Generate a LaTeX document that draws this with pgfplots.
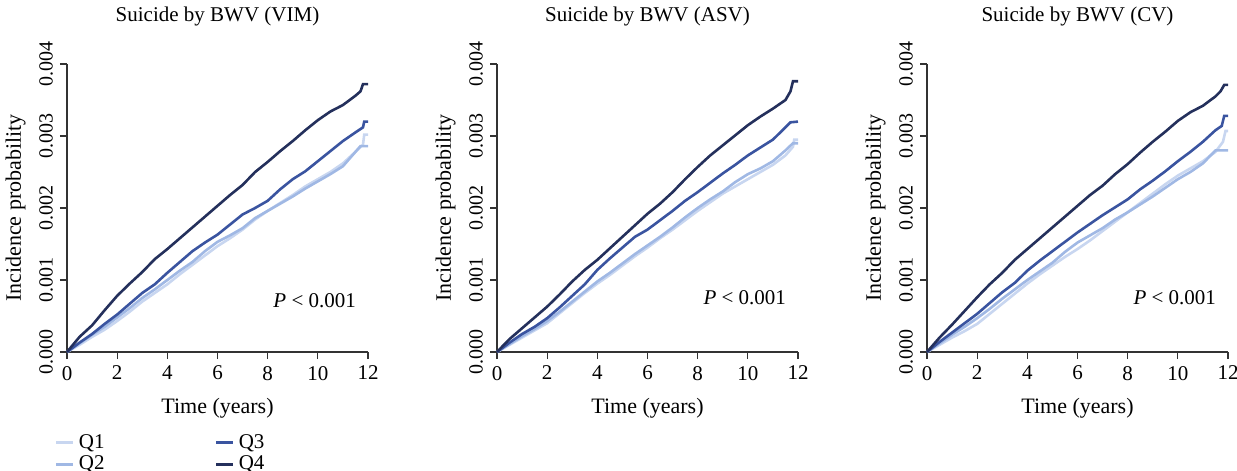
\documentclass[border=0pt]{standalone}
\usepackage{fontspec}
\setmainfont{Liberation Serif}
\usepackage{pgfplots}
\pgfplotsset{compat=1.18}
\definecolor{cqa}{RGB}{200,214,240}
\definecolor{cqb}{RGB}{160,184,228}
\definecolor{cqc}{RGB}{58,84,160}
\definecolor{cqd}{RGB}{36,48,92}
\pgfplotsset{
  panel/.style={
    scale only axis, width=150.5pt, height=144pt,
    xmin=0, xmax=12, ymin=0, ymax=0.004,
    xtick={0,2,4,6,8,10,12},
    ytick={0,0.001,0.002,0.003,0.004},
    axis lines=left,
    axis line style={-, line width=0.6pt, color=black!80},
    tick align=outside,
    tick style={black!80, line width=0.6pt},
    major tick length=3.5pt,
    scaled y ticks=false,
    /pgf/number format/assume math mode=true,
    yticklabel style={/pgf/number format/fixed, /pgf/number format/precision=3,
      /pgf/number format/fixed zerofill, rotate=90, anchor=south, font=\fontsize{10}{12}\selectfont},
    xticklabel style={font=\fontsize{10.5}{12}\selectfont},
    title style={at={(0.5,1)}, anchor=base, yshift=15.5pt, font=\fontsize{10.5}{12}\selectfont},
    every axis x label/.style={at={(axis description cs:0.5,0)}, anchor=base, yshift=-30.5pt, font=\fontsize{11}{12}\selectfont},
    ylabel style={font=\fontsize{11}{12}\selectfont},
    xlabel={Time (years)},
    ylabel={Incidence probability},
    clip=false,
  },
  q1/.style={color=cqa, line width=1.3pt},
  q2/.style={color=cqb, line width=1.3pt},
  q3/.style={color=cqc, line width=1.3pt},
  q4/.style={color=cqd, line width=1.3pt},
}
\begin{document}
\begin{tikzpicture}
\path[use as bounding box] (-33.5pt,-59.5pt) rectangle (585pt,176pt);
% ---------------- VIM
\begin{axis}[panel, at={(0pt,0pt)}, anchor=south west,
  title={Suicide by BWV (VIM)},
  legend style={draw=none, fill=none, at={(axis description cs:-0.062,-0.256)}, anchor=north west,
    font=\fontsize{10.5}{10.5}\selectfont, row sep=-1.5pt,
    /tikz/column 2/.style={column sep=53pt}},
  legend cell align=left, legend columns=2, transpose legend,
  legend image code/.code={\draw[#1, line width=1.6pt] (0pt,0pt) -- (8.5pt,0pt);},
]
\addplot[q1] coordinates {(0,0) (0.5,0.0001) (1,0.00021) (1.5,0.00031) (2,0.00043) (2.5,0.00056) (3,0.0007) (3.5,0.00082) (4,0.00094) (4.5,0.00108) (5,0.00121) (5.5,0.00134) (6,0.00147) (6.5,0.00158) (7,0.0017) (7.5,0.00184) (8,0.00196) (8.5,0.00207) (9,0.00218) (9.5,0.0023) (10,0.0024) (10.5,0.0025) (11,0.00262) (11.5,0.00278) (11.8,0.00288) (11.85,0.00302) (12,0.00302)};
\addplot[q2] coordinates {(0,0) (0.5,0.00012) (1,0.00024) (1.5,0.00035) (2,0.00048) (2.5,0.00061) (3,0.00075) (3.5,0.00087) (4,0.001) (4.5,0.00113) (5,0.00125) (5.5,0.0014) (6,0.00153) (6.5,0.00162) (7,0.00172) (7.5,0.00186) (8,0.00196) (8.5,0.00206) (9,0.00216) (9.5,0.00227) (10,0.00237) (10.5,0.00247) (11,0.00258) (11.5,0.00278) (11.7,0.00286) (12,0.00286)};
\addplot[q3] coordinates {(0,0) (0.5,0.00013) (1,0.00025) (1.5,0.00039) (2,0.00052) (2.5,0.00067) (3,0.00082) (3.5,0.00094) (4,0.0011) (4.5,0.00125) (5,0.0014) (5.5,0.00152) (6,0.00163) (6.5,0.00177) (7,0.00191) (7.5,0.002) (8,0.0021) (8.5,0.00226) (9,0.0024) (9.5,0.00251) (10,0.00265) (10.5,0.00279) (11,0.00293) (11.5,0.00305) (11.8,0.00312) (11.85,0.0032) (12,0.0032)};
\addplot[q4] coordinates {(0,0) (0.5,0.00021) (1,0.00037) (1.5,0.00058) (2,0.00078) (2.5,0.00095) (3,0.00111) (3.5,0.00129) (4,0.00143) (4.5,0.00158) (5,0.00173) (5.5,0.00188) (6,0.00203) (6.5,0.00218) (7,0.00232) (7.5,0.0025) (8,0.00264) (8.5,0.00279) (9,0.00293) (9.5,0.00308) (10,0.00322) (10.5,0.00334) (11,0.00343) (11.5,0.00356) (11.7,0.00362) (11.8,0.00372) (12,0.00372)};
\legend{Q1,Q2,Q3,Q4}
\node[anchor=base east, font=\fontsize{10.5}{12}\selectfont] at (axis cs:11.8,0.00062) {\textit{P} < 0.001};
\end{axis}
% ---------------- ASV
\begin{axis}[panel, at={(215pt,0pt)}, anchor=south west,
  title={Suicide by BWV (ASV)}]
\addplot[q1] coordinates {(0,0) (0.5,0.0001) (1,0.0002) (1.5,0.0003) (2,0.0004) (2.5,0.00054) (3,0.00068) (3.5,0.00082) (4,0.00095) (4.5,0.00107) (5,0.0012) (5.5,0.00133) (6,0.00145) (6.5,0.00158) (7,0.0017) (7.5,0.00183) (8,0.00196) (8.5,0.00208) (9,0.0022) (9.5,0.0023) (10,0.0024) (10.5,0.0025) (11,0.0026) (11.5,0.00273) (11.8,0.00285) (11.85,0.00295) (12,0.00295)};
\addplot[q2] coordinates {(0,0) (0.5,0.00011) (1,0.00022) (1.5,0.00032) (2,0.00043) (2.5,0.00056) (3,0.0007) (3.5,0.00084) (4,0.00098) (4.5,0.0011) (5,0.00123) (5.5,0.00136) (6,0.00148) (6.5,0.0016) (7,0.00173) (7.5,0.00187) (8,0.002) (8.5,0.00212) (9,0.00223) (9.5,0.00236) (10,0.00247) (10.5,0.00255) (11,0.00265) (11.5,0.0028) (11.8,0.0029) (12,0.0029)};
\addplot[q3] coordinates {(0,0) (0.5,0.00013) (1,0.00025) (1.5,0.00035) (2,0.00047) (2.5,0.00062) (3,0.00078) (3.5,0.00094) (4,0.00114) (4.5,0.0013) (5,0.00145) (5.5,0.0016) (6,0.0017) (6.5,0.00183) (7,0.00196) (7.5,0.0021) (8,0.00222) (8.5,0.00235) (9,0.00248) (9.5,0.0026) (10,0.00273) (10.5,0.00284) (11,0.00295) (11.5,0.00312) (11.7,0.00319) (12,0.0032)};
\addplot[q4] coordinates {(0,0) (0.5,0.00018) (1,0.00033) (1.5,0.00048) (2,0.00063) (2.5,0.0008) (3,0.00098) (3.5,0.00114) (4,0.00128) (4.5,0.00144) (5,0.0016) (5.5,0.00176) (6,0.00192) (6.5,0.00206) (7,0.00222) (7.5,0.0024) (8,0.00257) (8.5,0.00273) (9,0.00287) (9.5,0.00301) (10,0.00315) (10.5,0.00327) (11,0.00338) (11.5,0.0035) (11.7,0.00362) (11.8,0.00376) (12,0.00376)};
\node[anchor=base east, font=\fontsize{10.5}{12}\selectfont] at (axis cs:11.8,0.00066) {\textit{P} < 0.001};
\end{axis}
% ---------------- CV
\begin{axis}[panel, at={(430pt,0pt)}, anchor=south west,
  title={Suicide by BWV (CV)}]
\addplot[q1] coordinates {(0,0) (0.5,0.0001) (1,0.0002) (1.5,0.00029) (2,0.00039) (2.5,0.00053) (3,0.00067) (3.5,0.00081) (4,0.00095) (4.5,0.00108) (5,0.0012) (5.5,0.00132) (6,0.00143) (6.5,0.00155) (7,0.00168) (7.5,0.00181) (8,0.00194) (8.5,0.00207) (9,0.0022) (9.5,0.00233) (10,0.00245) (10.5,0.00255) (11,0.00265) (11.5,0.00278) (11.8,0.00292) (11.9,0.00307) (12,0.00307)};
\addplot[q2] coordinates {(0,0) (0.5,0.00012) (1,0.00024) (1.5,0.00035) (2,0.00047) (2.5,0.0006) (3,0.00074) (3.5,0.00087) (4,0.001) (4.5,0.00112) (5,0.00124) (5.5,0.00139) (6,0.00152) (6.5,0.00162) (7,0.00172) (7.5,0.00184) (8,0.00194) (8.5,0.00205) (9,0.00216) (9.5,0.00228) (10,0.0024) (10.5,0.0025) (11,0.00262) (11.5,0.0028) (12,0.0028)};
\addplot[q3] coordinates {(0,0) (0.5,0.00014) (1,0.00027) (1.5,0.0004) (2,0.00053) (2.5,0.00068) (3,0.00083) (3.5,0.00096) (4,0.00113) (4.5,0.00127) (5,0.0014) (5.5,0.00153) (6,0.00166) (6.5,0.00178) (7,0.0019) (7.5,0.00201) (8,0.00212) (8.5,0.00226) (9,0.00238) (9.5,0.00251) (10,0.00265) (10.5,0.00278) (11,0.00292) (11.5,0.00308) (11.75,0.00314) (11.85,0.00328) (12,0.00328)};
\addplot[q4] coordinates {(0,0) (0.5,0.0002) (1,0.00038) (1.5,0.00057) (2,0.00076) (2.5,0.00094) (3,0.0011) (3.5,0.00128) (4,0.00143) (4.5,0.00158) (5,0.00173) (5.5,0.00188) (6,0.00203) (6.5,0.00218) (7,0.00231) (7.5,0.00247) (8,0.00261) (8.5,0.00277) (9,0.00292) (9.5,0.00306) (10,0.00321) (10.5,0.00333) (11,0.00342) (11.5,0.00355) (11.7,0.00362) (11.85,0.00371) (12,0.00371)};
\node[anchor=base east, font=\fontsize{10.5}{12}\selectfont] at (axis cs:11.8,0.00066) {\textit{P} < 0.001};
\end{axis}
\end{tikzpicture}
\end{document}
